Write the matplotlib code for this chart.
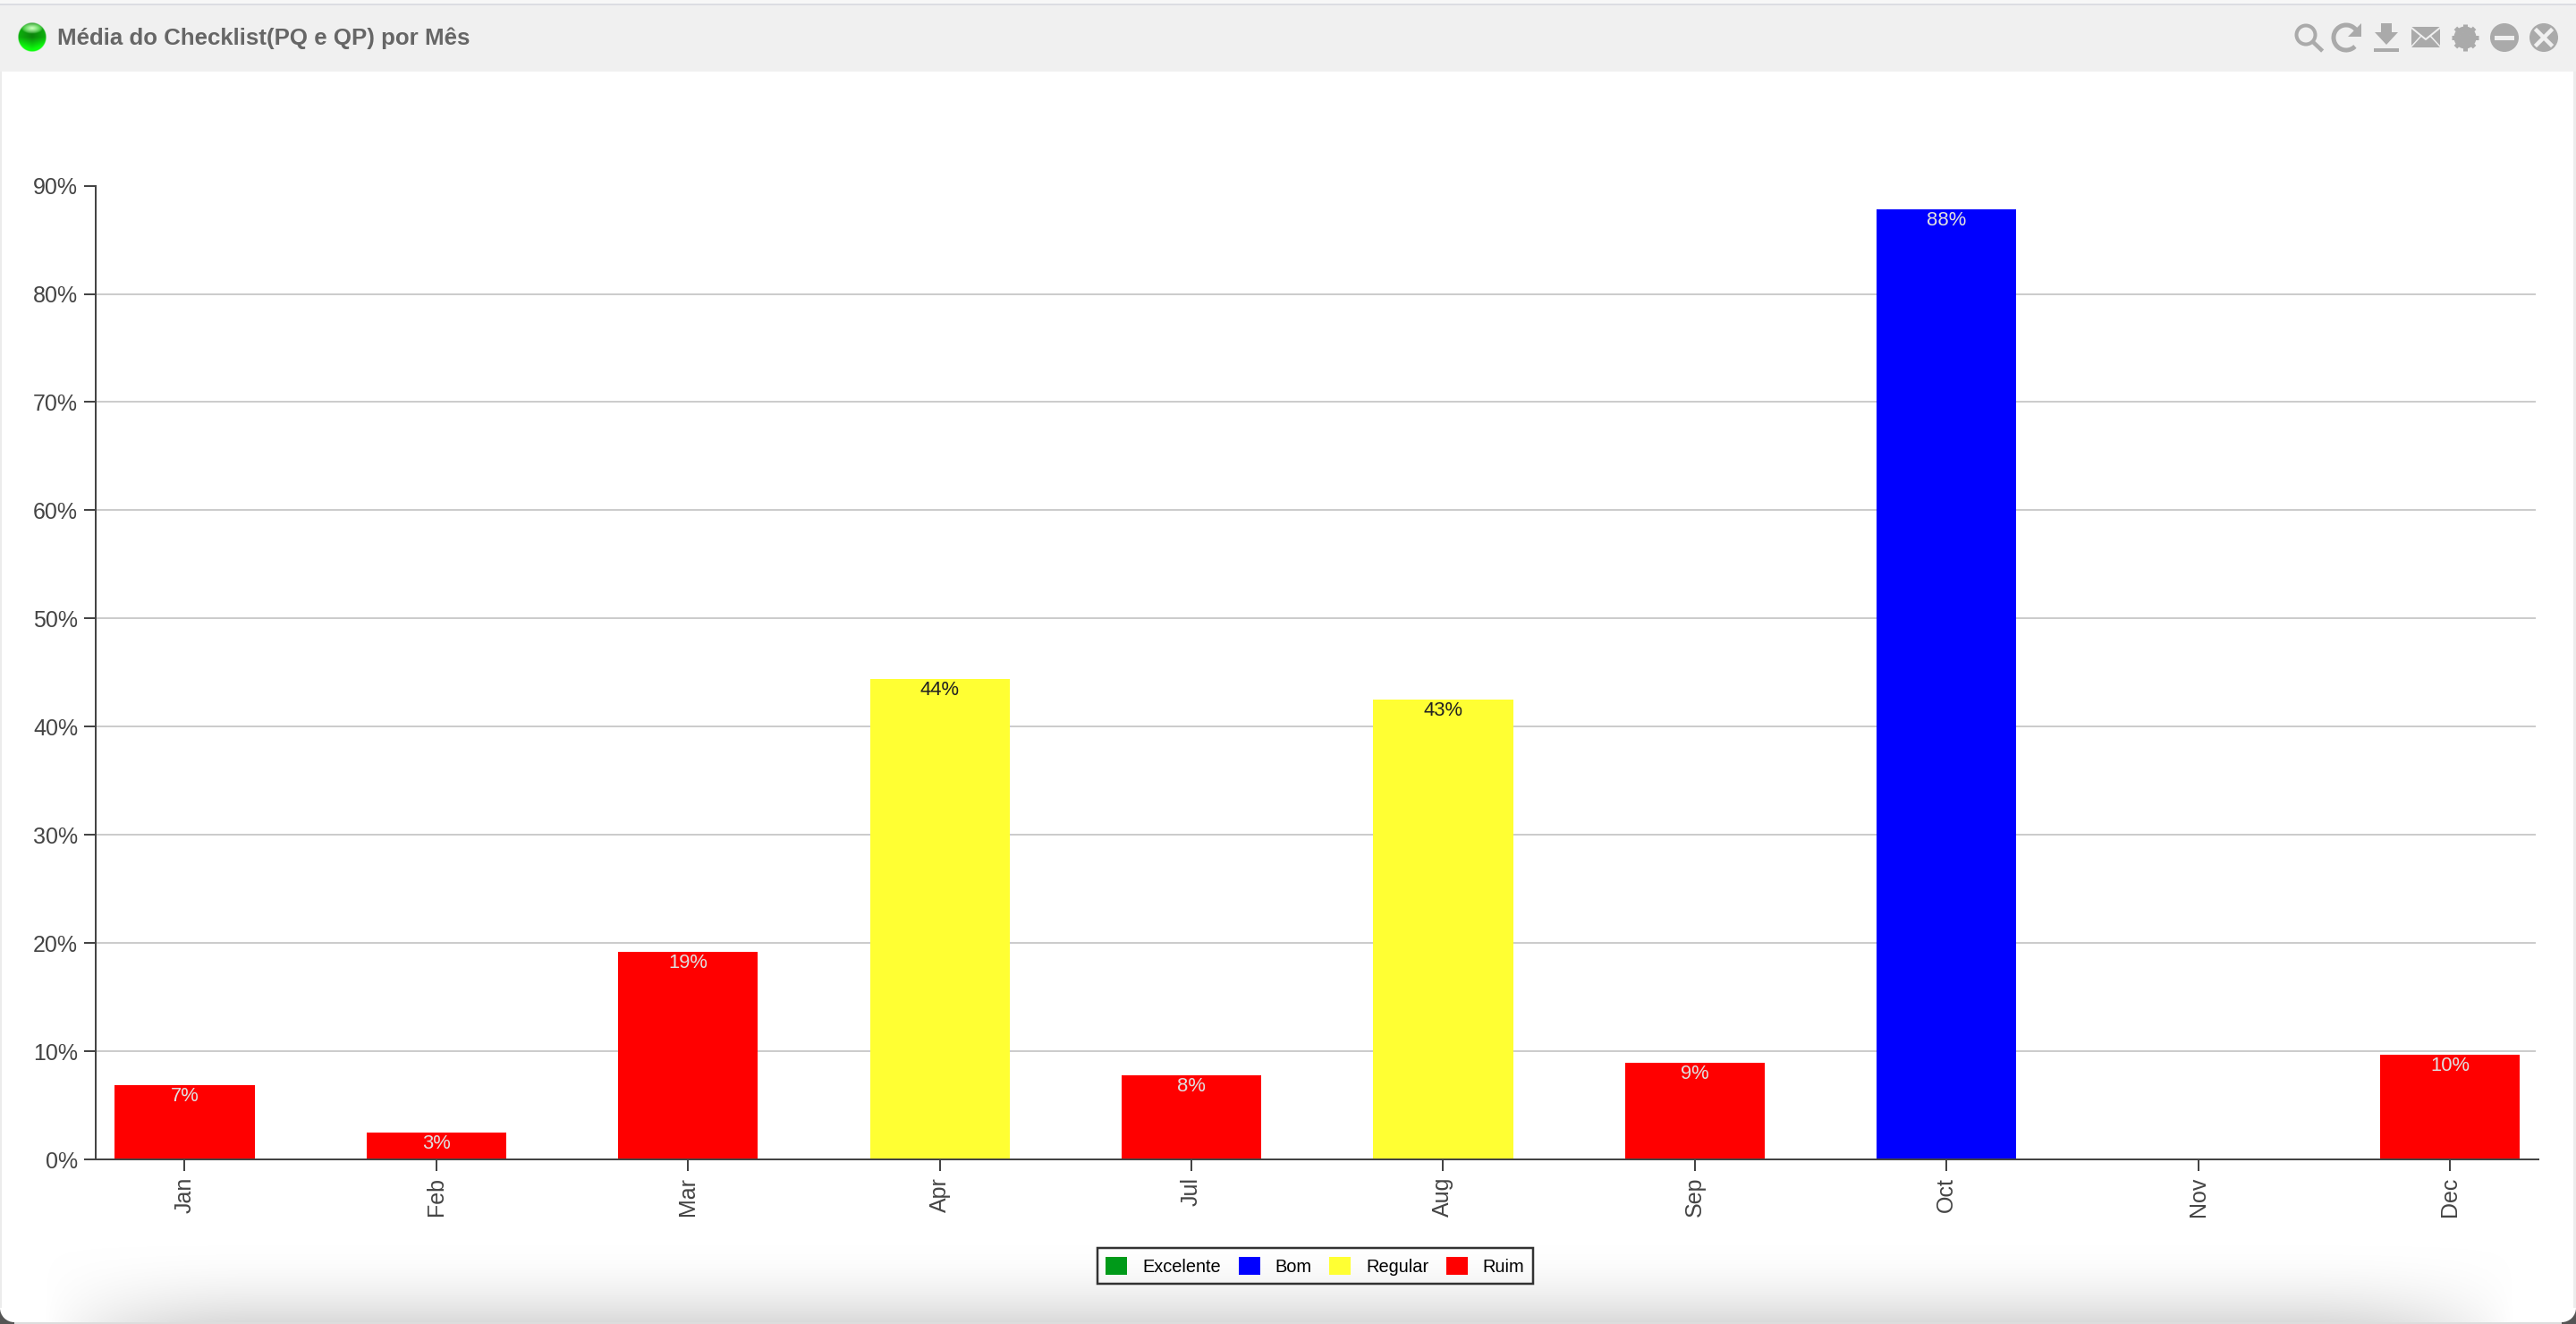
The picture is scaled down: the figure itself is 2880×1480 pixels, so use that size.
import numpy as np
import matplotlib
matplotlib.use("Agg")
import matplotlib.pyplot as plt
from matplotlib.patches import Rectangle, Circle, Polygon, Arc, Wedge
from matplotlib.lines import Line2D
from matplotlib.transforms import IdentityTransform

months = ["Jan", "Feb", "Mar", "Apr", "Jul", "Aug", "Sep", "Oct", "Nov", "Dec"]
values = [6.9, 2.5, 19.2, 44.4, 7.8, 42.5, 8.9, 87.8, 0, 9.7]
labels = ["7%", "3%", "19%", "44%", "8%", "43%", "9%", "88%", "", "10%"]
classes = ["Ruim", "Ruim", "Ruim", "Regular", "Ruim", "Regular", "Ruim", "Bom", "Ruim", "Ruim"]
legend_names = ["Excelente", "Bom", "Regular", "Ruim"]
legend_colors = ["#009a19", "#0000ff", "#ffff33", "#ff0000"]
label_colors = {"Ruim": "#e0e0e0", "Bom": "#e0e0e0", "Regular": "#222222", "Excelente": "#e0e0e0"}
yticks = [0, 10, 20, 30, 40, 50, 60, 70, 80, 90]
title = "Média do Checklist(PQ e QP) por Mês"

W, H = 2880, 1480
DPI = 200
px = 72 / DPI
plt.rcParams["font.family"] = ["Liberation Sans", "DejaVu Sans"]
fig = plt.figure(figsize=(W / DPI, H / DPI), dpi=DPI, facecolor="#ffffff")

# ---- window chrome, in pixel coordinates ----
bg = fig.add_axes([0, 0, 1, 1], zorder=0)
bg.set_xlim(0, W)
bg.set_ylim(H, 0)
bg.axis("off")
GREY = "#aaaaaa"
bg.add_patch(Rectangle((0, 0), W, 4, fc="#f7f7f7", ec="none"))
bg.add_patch(Rectangle((0, 4), W, 2, fc="#dcdde2", ec="none"))
bg.add_patch(Rectangle((0, 6), W, 74, fc="#f0f0f0", ec="none"))
bg.add_patch(Rectangle((0, 80), 2, H - 80, fc="#ececec", ec="none"))
bg.add_patch(Rectangle((2877, 80), 3, H - 80, fc="#ececec", ec="none"))

# bottom drop shadow
yy, xx = np.mgrid[1380:1480, 0:W]
edge = np.clip(np.minimum(xx - 50, 2810 - xx) / 240, 0, 1)
depth = np.clip((yy - 1385) / 92, 0, 1) ** 2
shade = depth * (edge * (2 - edge))
rgba = np.zeros(yy.shape + (4,))
rgba[..., :3] = 0.80
rgba[..., 3] = shade * 0.72
bg.imshow(rgba, extent=(0, W, 1480, 1380), aspect="auto", interpolation="bilinear", zorder=1)

# bottom rim and dark corners
bg.add_patch(Rectangle((0, 1478), W, 2, fc="#dddddd", ec="none", zorder=2))
for cx, a1, a2, box in [(16, 90, 180, (0, 1462)), (2864, 0, 90, (2864, 1462))]:
    bg.add_patch(Rectangle(box, 16, 18, fc="#555555", ec="none", zorder=2))
    bg.add_patch(Wedge((cx, 1462), 16, a1, a2, fc="#ffffff", ec="none", zorder=3))

# green status ball
v, u = np.mgrid[-1:1:80j, -1:1:80j]
r = np.hypot(u, v)
ball = np.zeros((80, 80, 4))
glow = np.clip(1 - np.hypot(u / 0.75, (v + 0.62) / 0.38), 0, 1) ** 0.7
base = np.clip(0.52 + 0.55 * np.clip(v, 0, 1) + 0.18 * np.abs(u), 0, 1)
ball[..., 0] = 0.05 + 0.75 * glow
ball[..., 1] = np.clip(base + 0.5 * glow, 0, 1)
ball[..., 2] = 0.05 + 0.7 * glow
ball[..., 3] = np.clip((1 - r) * 30, 0, 1)
bg.imshow(ball, extent=(20, 52, 58, 25), aspect="auto", interpolation="bilinear", zorder=3)
bg.set_xlim(0, W)
bg.set_ylim(H, 0)

bg.text(64, 42.5, title, fontsize=25.9 * px, fontweight="bold", color="#666666", va="center", ha="left")

# toolbar icons
bg.add_patch(Circle((2578, 39), 10.5, fc="none", ec=GREY, lw=4 * px))
bg.add_line(Line2D([2586, 2595], [47, 55.5], color=GREY, lw=4.5 * px))
bg.add_patch(Arc((2623, 42), 28, 28, theta1=45, theta2=325, ec=GREY, lw=5 * px))
bg.add_patch(Polygon([[2640, 26], [2640, 41], [2625, 41]], fc=GREY, ec="none"))
bg.add_patch(Polygon([[2662, 26], [2674, 26], [2674, 36], [2681, 36], [2668, 50], [2655, 36], [2662, 36]], fc=GREY, ec="none"))
bg.add_patch(Rectangle((2654, 54), 28, 4, fc=GREY, ec="none"))
bg.add_patch(Rectangle((2696, 30), 32, 23, fc=GREY, ec="none"))
bg.add_line(Line2D([2696, 2712, 2728], [31, 44, 31], color="#f0f0f0", lw=2 * px))
bg.add_line(Line2D([2696, 2707], [52, 40], color="#f0f0f0", lw=1.5 * px))
bg.add_line(Line2D([2728, 2717], [52, 40], color="#f0f0f0", lw=1.5 * px))
for ang in np.arange(0, 360, 45):
    t = np.radians(ang)
    bg.add_line(Line2D([2756, 2756 + 15 * np.cos(t)], [42, 42 + 15 * np.sin(t)], color=GREY, lw=5 * px, solid_capstyle="butt"))
bg.add_patch(Circle((2756, 42), 12.5, fc=GREY, ec="none"))
bg.add_patch(Circle((2756, 42), 6, fc="#f0f0f0", ec="none"))
bg.add_patch(Circle((2800, 42), 16, fc=GREY, ec="none"))
bg.add_patch(Rectangle((2789, 40), 22, 4.5, fc="#f0f0f0", ec="none"))
bg.add_patch(Circle((2844, 42), 16, fc=GREY, ec="none"))
bg.add_line(Line2D([2836, 2852], [34, 50], color="#f0f0f0", lw=4.5 * px))
bg.add_line(Line2D([2836, 2852], [50, 34], color="#f0f0f0", lw=4.5 * px))

# ---- chart ----
L, R, T, B = 107, 2838, 207.6, 1296
ax = fig.add_axes([L / W, 1 - B / H, (R - L) / W, (B - T) / H], zorder=2)
ax.patch.set_alpha(0)
x = np.arange(len(months))
ax.set_xlim(-0.3536, 9.352)
ax.set_ylim(0, 90)

color_of = dict(zip(legend_names, legend_colors))
ax.hlines(yticks[1:-1], 0, (2835 - L) / (R - L), transform=ax.get_yaxis_transform(),
          color="#cccccc", lw=2 * px, zorder=1)
bars = ax.bar(x, values, width=0.555, color=[color_of[c] for c in classes], zorder=2)
for xi, v, lab, c in zip(x, values, labels, classes):
    if lab:
        ax.annotate(lab, (xi, v), xytext=(0, -2 * px), textcoords="offset points", ha="center", va="top",
                    fontsize=22 * px, color=label_colors[c], zorder=3)

for s in ["top", "right"]:
    ax.spines[s].set_visible(False)
for s in ["left", "bottom"]:
    ax.spines[s].set_color("#444444")
    ax.spines[s].set_linewidth(2 * px)
ax.set_yticks(yticks, [f"{t}%" for t in yticks])
ax.set_xticks(x, months, rotation=90)
ax.tick_params(axis="y", length=13 * px, width=2 * px, color="#444444", labelcolor="#444444",
               labelsize=25 * px, pad=7 * px)
ax.tick_params(axis="x", length=13 * px, width=2 * px, color="#444444", labelcolor="#444444",
               labelsize=25 * px, pad=7 * px)

handles = [Rectangle((0, 0), 1, 1, fc=c, ec="none") for c in legend_colors]
leg = ax.legend(handles, legend_names, ncol=4, loc="center",
                bbox_to_anchor=(1470.5, H - 1415), bbox_transform=IdentityTransform(),
                fontsize=20 * px, frameon=True, fancybox=False, edgecolor="black", facecolor="none",
                framealpha=None, handlelength=1.2, handleheight=1.2, handletextpad=0.83,
                columnspacing=1.0, borderpad=0.47, borderaxespad=0)
leg.get_frame().set_linewidth(2.5 * px)

fig.savefig("out.png", dpi=DPI, facecolor=fig.get_facecolor())
